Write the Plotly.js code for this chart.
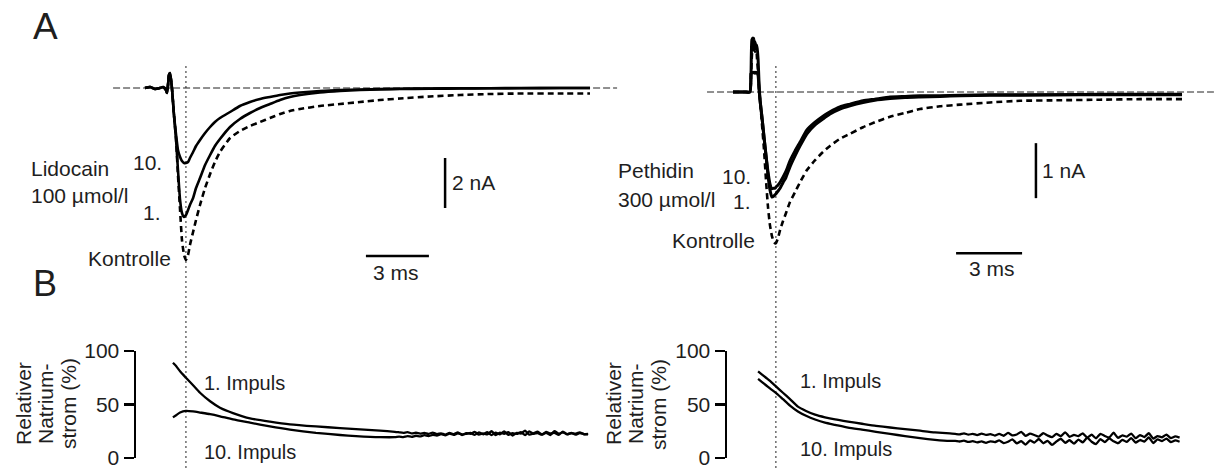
<!DOCTYPE html>
<html>
<head>
<meta charset="utf-8">
<script src="https://cdn.plot.ly/plotly-3.0.1.min.js"></script>
<style>html,body{margin:0;padding:0;background:#fff;}#chart{width:1214px;height:468px;}</style>
</head>
<body>
<div id="chart"></div>
<script>
// ---------- Panel A, Lidocain 100 µmol/l (time in ms, current in nA) ----------
const tLido = [0,0.24,0.48,0.71,0.86,1.00,1.05,1.10,1.14,1.19,1.24,1.29,1.38,1.48,1.57,1.67,1.76,1.86,1.95,2.05,2.14,2.29,2.43,2.62,2.86,3.10,3.33,3.57,4.05,4.52,5.00,5.48,5.95,6.43,6.90,7.38,8.33,9.29,10.24,11.19,12.14,13.57,15.00,16.43,17.86,19.76,21.19];
const lido10 = [0,0.04,-0.04,0,0.04,-0.08,-0.2,0.16,0.52,0.6,0.32,-0.08,
  -1.08,-1.88,-2.48,-2.76,-2.92,-3.0,-3.0,-2.96,-2.8,-2.56,-2.32,-2.08,-1.8,-1.56,-1.36,-1.2,-0.96,-0.72,-0.56,-0.44,-0.36,-0.28,-0.22,-0.18,-0.12,-0.08,-0.06,-0.04,-0.03,-0.02,-0.01,-0.01,0,0,0];
const lido1 = [0,0.04,-0.04,0,0.04,-0.08,-0.2,0.16,0.52,0.6,0.32,-0.08,
  -1.08,-2.08,-3.28,-4.48,-5.0,-5.16,-5.08,-4.88,-4.68,-4.4,-4.0,-3.6,-3.08,-2.68,-2.32,-2.04,-1.56,-1.24,-1.0,-0.8,-0.64,-0.48,-0.36,-0.28,-0.18,-0.12,-0.08,-0.06,-0.04,-0.03,-0.02,-0.01,-0.01,0,0];
const lidoCtrl = [0,0.04,-0.04,0,0.04,-0.08,-0.2,0.16,0.52,0.6,0.32,-0.08,
  -1.08,-2.08,-3.48,-4.88,-6.08,-6.68,-6.88,-6.68,-6.28,-5.76,-5.28,-4.68,-4.0,-3.44,-2.96,-2.56,-2.0,-1.72,-1.52,-1.36,-1.2,-1.04,-0.92,-0.84,-0.72,-0.64,-0.56,-0.48,-0.42,-0.34,-0.28,-0.24,-0.22,-0.22,-0.22];

// ---------- Panel A, Pethidin 300 µmol/l ----------
const tPeth = [0,0.32,0.55,0.77,0.82,0.86,0.91,0.95,1.0,1.05,1.09,1.14,1.18,1.23,1.32,1.41,1.5,1.59,1.68,1.77,1.86,1.91,1.95,2.05,2.14,2.27,2.41,2.59,2.82,3.05,3.36,3.73,4.09,4.41,4.86,5.32,5.91,6.45,7.14,7.82,8.5,9.41,10.32,11.68,13.05,14.86,16.68,18.5,20.41];
const peth10 = [0,0,0,0,0.35,0.95,0.98,0.76,0.91,0.8,0.85,0.6,0.2,-0.15,
  -0.47,-0.82,-1.15,-1.45,-1.67,-1.76,-1.75,-1.75,-1.73,-1.69,-1.64,-1.55,-1.44,-1.25,-1.07,-0.91,-0.69,-0.55,-0.44,-0.36,-0.27,-0.22,-0.16,-0.13,-0.09,-0.08,-0.07,-0.07,-0.06,-0.05,-0.05,-0.05,-0.04,-0.04,-0.04];
const peth1 = [0,0,0,0,0.33,0.36,0.35,0.36,0.34,0.36,0.35,0.3,0.07,-0.15,
  -0.47,-0.82,-1.16,-1.51,-1.78,-1.91,-1.89,-1.87,-1.85,-1.8,-1.75,-1.65,-1.55,-1.36,-1.16,-0.98,-0.76,-0.6,-0.49,-0.4,-0.31,-0.25,-0.19,-0.15,-0.12,-0.1,-0.09,-0.08,-0.07,-0.06,-0.06,-0.05,-0.05,-0.05,-0.05];
const pethCtrl = [0,0,0,0,0.33,0.67,0.91,0.98,0.73,0.85,0.62,0.36,0.07,-0.15,
  -0.6,-1.05,-1.6,-2.09,-2.42,-2.62,-2.73,-2.75,-2.75,-2.65,-2.51,-2.35,-2.2,-2.0,-1.82,-1.64,-1.42,-1.24,-1.09,-0.98,-0.85,-0.76,-0.64,-0.55,-0.45,-0.38,-0.31,-0.26,-0.23,-0.19,-0.16,-0.15,-0.14,-0.13,-0.13];

// ---------- Panel B, relative sodium current (%) ----------
const tBLido = [1.33,1.48,1.67,1.95,2.29,2.62,3.10,3.57,4.19,5.0,5.95,6.90,8.14,9.29,10.05,11.19,11.90,
  12.1,12.3,12.5,12.7,12.9,13.1,13.3,13.5,13.7,13.9,14.1,14.3,14.5,14.7,14.9,15.1,15.3,15.5,15.7,15.9,
  16.1,16.3,16.5,16.7,16.9,17.1,17.3,17.5,17.7,17.9,18.1,18.3,18.5,18.7,18.9,19.1,19.3,19.5,19.7,19.9,
  20.1,20.3,20.5,20.7,20.9,21.1];
const lidoImp1 = [89,86,81,75,68,61,53,47,42,37,34,31.5,29.5,28,27,25.5,24.5,
  24,23.5,24.2,23,23.6,22.8,23.4,22.5,23.8,22.4,23,21.9,23.5,22.2,24,21.5,23.2,22.6,24.5,21.8,
  23,22,25,21.5,23.8,22.5,24.2,21,23.5,22.8,25.5,21.8,23,24.6,22,23.5,21.5,25,22.8,24,
  22,23.5,21.8,23.2,22.4,22];
const lidoImp10 = [38,40,42.5,44,43.5,42.5,41,39,36,33,29.5,26.5,23.5,21.5,20.5,19.5,19.5,
  20,19.6,20.5,19.8,20.8,20.2,21.3,20.5,21.6,21,22.3,21.2,22.8,21.6,23.1,22,22.6,23.4,21.6,23.9,
  22.2,24.2,21.4,23.6,22.1,24.8,21.7,23.3,22.5,24.1,21.4,24.9,22.6,23.2,21.8,24.4,22.9,23.6,21.6,24.7,
  22.3,23.1,22.7,24,22.2,22.6];

const tBPeth = [1.14,1.32,1.5,1.68,2.0,2.27,2.59,2.95,3.32,3.73,4.18,4.64,5.23,5.86,6.5,7.14,7.82,8.5,9.18,9.86,
  10.1,10.3,10.5,10.7,10.9,11.1,11.3,11.5,11.7,11.9,12.1,12.3,12.5,12.7,12.9,13.1,13.3,13.5,13.7,13.9,
  14.1,14.3,14.5,14.7,14.9,15.1,15.3,15.5,15.7,15.9,16.1,16.3,16.5,16.7,16.9,17.1,17.3,17.5,17.7,17.9,
  18.1,18.3,18.5,18.7,18.9,19.1,19.3,19.5,19.7,19.9,20.1,20.3];
const pethImp1 = [81,78,75,72,66,61,55,48,44,40.5,38,36,34,32,30,28.5,27,25.5,24,23,
  22.5,22,23,21.8,22.6,21.4,22.8,21.6,22.3,21,22.5,20.8,23.4,21.2,22,24.5,20.6,22.8,21.5,20,
  23.2,21,19.5,22.5,20.4,24,19.8,21.6,20.5,23,19,21.8,18.4,22.5,20.6,19.2,23.6,18.8,21.2,20,
  22.8,18.5,21.4,19.6,23.2,18.2,20.5,19.4,21.8,18.6,20.2,19];
const pethImp10 = [74,71,68,65,60,55,49,43.5,39.5,36,33,31,28.5,26.5,24.5,22.5,20.5,18.5,17,16,
  16,15.4,16.2,15,15.8,14.6,15.5,14.2,15.6,14.8,16.4,14,15.2,17.5,13.6,15.8,12.5,16.4,14.4,17.8,
  13.8,16,12.2,15.4,18,14.2,16.6,13.4,17.2,14.6,19,15.2,13,17.6,14.8,18.4,15.6,13.8,17,15,
  18.6,14.4,16.8,15.4,19.2,14,17.4,15.8,18.2,14.8,16.4,15.2];

const bTicks = [0, 50, 100];

// ---------- layout helpers ----------
const W = 1214, H = 468;
const px = x => x / W;
const py = y => 1 - y / H;
const FONT = 'Liberation Sans, Arial, Helvetica, sans-serif';
const TXT = '#1e1e1e';

function line(x, y, xa, ya, dash, w) {
  return {x: x, y: y, xaxis: xa, yaxis: ya, type: 'scatter', mode: 'lines', hoverinfo: 'skip',
    line: {color: '#000', width: w || 2.5, dash: dash || 'solid', shape: 'spline', smoothing: 0.5}};
}

const data = [
  line(tLido, lidoCtrl, 'x', 'y', '6px,4px', 2.6),
  line(tLido, lido1, 'x', 'y', null, 2.6),
  line(tLido, lido10, 'x', 'y', null, 2.6),
  line(tPeth, pethCtrl, 'x2', 'y2', '6px,4px', 2.6),
  line(tPeth, peth1, 'x2', 'y2', null, 3),
  line(tPeth, peth10, 'x2', 'y2', null, 3),
  line(tBLido, lidoImp1, 'x3', 'y3', null, 2.3),
  line(tBLido, lidoImp10, 'x3', 'y3', null, 2.3),
  line(tBPeth, pethImp1, 'x4', 'y4', null, 2.3),
  line(tBPeth, pethImp10, 'x4', 'y4', null, 2.3)
];

const hidden = {visible: false, fixedrange: true};
const bAxis = {
  range: [0, 100], tickvals: bTicks, ticks: 'outside', ticklen: 10, tickwidth: 2.5, tickcolor: '#000',
  showline: true, linewidth: 2.5, linecolor: '#000', showgrid: false, zeroline: false,
  ticklabeloverflow: 'allow', automargin: false,
  tickfont: {family: FONT, size: 21, color: TXT}, domain: [py(458), py(351)]
};

function ann(text, x, y, xanchor, size, extra) {
  return Object.assign({text: text, xref: 'paper', yref: 'paper', x: px(x), y: py(y),
    xanchor: xanchor || 'left', yanchor: 'middle', showarrow: false,
    font: {family: FONT, size: size || 21, color: TXT}}, extra || {});
}

const annotations = [
  ann('A', 31, 26, 'left', 37),
  ann('B', 31, 283, 'left', 36),
  ann('Lidocain', 29, 168, 'left'),
  ann('100 µmol/l', 29, 195, 'left'),
  ann('10.', 164, 162, 'right'),
  ann('1.', 163, 213, 'right'),
  ann('Kontrolle', 173, 258, 'right'),
  ann('2 nA', 450, 183, 'left'),
  ann('3 ms', 396, 272, 'center'),
  ann('Pethidin', 616, 170, 'left'),
  ann('300 µmol/l', 616, 199, 'left'),
  ann('10.', 753, 176, 'right'),
  ann('1.', 753, 201, 'right'),
  ann('Kontrolle', 757, 241, 'right'),
  ann('1 nA', 1040, 170, 'left'),
  ann('3 ms', 992, 268, 'center'),
  ann('1. Impuls', 202, 383, 'left', 20),
  ann('10. Impuls', 202, 452, 'left', 20),
  ann('1. Impuls', 798, 381, 'left', 20),
  ann('10. Impuls', 798, 449, 'left', 20),
  ann('Relativer', 23, 404, 'center', 21, {textangle: -90}),
  ann('Natrium-', 45, 404, 'center', 21, {textangle: -90}),
  ann('strom (%)', 68, 404, 'center', 21, {textangle: -90}),
  ann('Relativer', 613, 404, 'center', 21, {textangle: -90}),
  ann('Natrium-', 635, 404, 'center', 21, {textangle: -90}),
  ann('strom (%)', 658, 404, 'center', 21, {textangle: -90})
];

const shapes = [
  {type: 'line', xref: 'x', yref: 'y', x0: -1.52, x1: 22.48, y0: 0, y1: 0, layer: 'below',
    line: {color: '#222', width: 1, dash: '7px,3px'}},
  {type: 'line', xref: 'x2', yref: 'y2', x0: -1.18, x1: 21.86, y0: 0, y1: 0, layer: 'below',
    line: {color: '#222', width: 1, dash: '7px,3px'}},
  {type: 'line', xref: 'x', yref: 'paper', x0: 1.95, x1: 1.95, y0: 0, y1: py(65), layer: 'below',
    line: {color: '#222', width: 1, dash: '2px,3px'}},
  {type: 'line', xref: 'x2', yref: 'paper', x0: 1.95, x1: 1.95, y0: 0, y1: py(63), layer: 'below',
    line: {color: '#222', width: 1, dash: '2px,3px'}},
  // scale bars: 2 nA / 3 ms (left), 1 nA / 3 ms (right)
  {type: 'line', xref: 'x', yref: 'y', x0: 14.29, x1: 14.29, y0: -2.8, y1: -4.8, line: {color: '#000', width: 2.5}},
  {type: 'line', xref: 'x', yref: 'y', x0: 10.52, x1: 13.52, y0: -6.72, y1: -6.72, line: {color: '#000', width: 2.5}},
  {type: 'line', xref: 'x2', yref: 'y2', x0: 13.77, x1: 13.77, y0: -0.93, y1: -1.93, line: {color: '#000', width: 2.5}},
  {type: 'line', xref: 'x2', yref: 'y2', x0: 10.14, x1: 13.14, y0: -2.93, y1: -2.93, line: {color: '#000', width: 2.5}}
];

const layout = {
  width: W, height: H, margin: {l: 0, r: 0, t: 0, b: 0},
  paper_bgcolor: '#fff', plot_bgcolor: 'rgba(0,0,0,0)', showlegend: false,
  font: {family: FONT, color: TXT},
  xaxis: Object.assign({domain: [px(100), px(620)], range: [-2.1429, 22.619], anchor: 'y'}, hidden),
  yaxis: Object.assign({domain: [py(300), py(40)], range: [-8.48, 1.92], anchor: 'x'}, hidden),
  xaxis2: Object.assign({domain: [px(700), 1], range: [-1.5, 21.8636], anchor: 'y2'}, hidden),
  yaxis2: Object.assign({domain: [py(300), py(20)], range: [-3.7818, 1.3091], anchor: 'x2'}, hidden),
  xaxis3: Object.assign({domain: [px(136), px(620)], range: [-0.4286, 22.619], anchor: 'y3'}, hidden),
  yaxis3: Object.assign({anchor: 'x3'}, bAxis),
  xaxis4: Object.assign({domain: [px(727), 1], range: [-0.2727, 21.8636], anchor: 'y4'}, hidden),
  yaxis4: Object.assign({anchor: 'x4'}, bAxis),
  annotations: annotations,
  shapes: shapes
};

Plotly.newPlot('chart', data, layout, {staticPlot: true, displayModeBar: false});
</script>
</body>
</html>
